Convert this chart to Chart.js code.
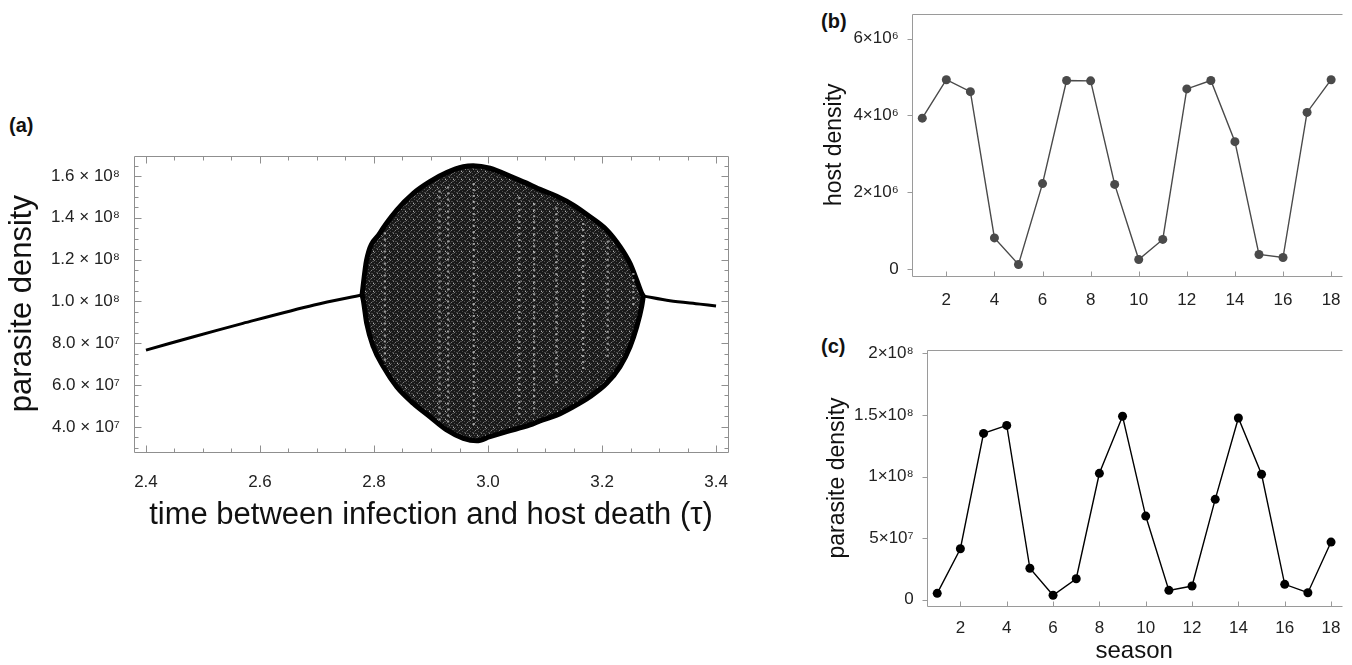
<!DOCTYPE html>
<html>
<head>
<meta charset="utf-8">
<script src="https://cdn.jsdelivr.net/npm/chart.js@4/dist/chart.umd.min.js"></script>
<style>
	body{margin:0;background:#fff;width:1352px;height:665px;position:relative;overflow:hidden;font-family:"Liberation Sans",Arial,sans-serif}
	canvas{position:absolute}
	.tag{position:absolute;font-weight:bold;font-size:20px;line-height:20px;color:#111}
</style>
</head>
<body>
<div class="tag" style="left:9px;top:115px">(a)</div>
<div class="tag" style="left:821px;top:11px">(b)</div>
<div class="tag" style="left:821px;top:336px">(c)</div>
<canvas id="cc" width="572" height="365" style="left:780px;top:300px"></canvas>
<canvas id="cb" width="572" height="312" style="left:780px;top:0"></canvas>
<canvas id="ca" width="760" height="560" style="left:0;top:0"></canvas>
<script>
// (a) parasite density against tau
const branchLeftTau=[2.4,2.482,2.57,2.695,2.779];
const branchLeftVal=[7.67e7,8.3e7,8.95e7,9.83e7,1.031e8];
const branchRightTau=[3.2725,3.319,3.372,3.4];
const branchRightVal=[1.026e8,1.003e8,9.87e7,9.78e7];

const upperTau=[2.779,2.787,2.8105,2.84,2.869,2.898,2.9275,2.9567,2.974,3.0035,3.0444,3.0737,3.0912,3.1205,3.1496,3.1789,3.2082,3.2316,3.2491,3.2609,3.2696,3.2725];
const upperVal=[1.031e8,1.198e8,1.327e8,1.437e8,1.517e8,1.573e8,1.616e8,1.644e8,1.649e8,1.637e8,1.592e8,1.558e8,1.536e8,1.503e8,1.461e8,1.405e8,1.342e8,1.262e8,1.182e8,1.102e8,1.039e8,1.026e8];
const lowerTau=[2.779,2.7812,2.7872,2.7988,2.8163,2.8398,2.869,2.8982,2.9275,2.9567,2.9802,3.0035,3.0328,3.0737,3.0912,3.1205,3.1496,3.1789,3.2082,3.2316,3.2491,3.2609,3.2696,3.2725];
const lowerVal=[1.031e8,1.007e8,8.95e7,7.83e7,6.88e7,5.92e7,5.12e7,4.48e7,3.85e7,3.45e7,3.33e7,3.53e7,3.77e7,4.09e7,4.28e7,4.56e7,4.96e7,5.44e7,6.08e7,6.88e7,7.83e7,8.79e7,9.75e7,1.026e8];

// pale vertical bands inside the chaotic region
const streakTau=[2.819,2.915,2.93,2.975,3.055,3.081,3.12,3.167,3.21,3.255];
const streakTop=[1.33e8,1.53e8,1.55e8,1.567e8,1.5e8,1.47e8,1.45e8,1.375e8,1.29e8,1.136e8];
const streakBottom=[6.96e7,4.2e7,4.0e7,3.94e7,4.4e7,4.6e7,5.9e7,6.57e7,7.3e7,9.73e7];

const tauTicks=[2.4,2.6,2.8,3.0,3.2,3.4];
const tauTickLabels=['2.4','2.6','2.8','3.0','3.2','3.4'];
const densTicks=[4e7,6e7,8e7,1e8,1.2e8,1.4e8,1.6e8];
const densTickLabels=['4.0 × 10⁷','6.0 × 10⁷','8.0 × 10⁷','1.0 × 10⁸','1.2 × 10⁸','1.4 × 10⁸','1.6 × 10⁸'];

// (b), (c) time series
const seasons=[1,2,3,4,5,6,7,8,9,10,11,12,13,14,15,16,17,18];
const hostDensity=[3.93e6,4.93e6,4.62e6,0.82e6,0.13e6,2.23e6,4.91e6,4.9e6,2.21e6,0.26e6,0.78e6,4.69e6,4.91e6,3.32e6,0.39e6,0.31e6,4.08e6,4.93e6];
const parasiteDensity=[0.52e7,4.14e7,1.35e8,1.415e8,2.55e7,0.36e7,1.7e7,1.026e8,1.489e8,6.79e7,0.76e7,1.11e7,8.15e7,1.475e8,1.018e8,1.25e7,0.57e7,4.68e7];

const seasonTicks=[2,4,6,8,10,12,14,16,18];
const hostTicks=[0,2e6,4e6,6e6];
const hostTickLabels=['0','2×10⁶','4×10⁶','6×10⁶'];
const parTicks=[0,5e7,1e8,1.5e8,2e8];
const parTickLabels=['0','5×10⁷','1×10⁸','1.5×10⁸','2×10⁸'];

Chart.defaults.font.family='"Liberation Sans", Arial, sans-serif';
Chart.defaults.color='#1e1e1e';
Chart.defaults.animation=false;
Chart.defaults.plugins.legend.display=false;
Chart.defaults.plugins.tooltip.enabled=false;

const pts=(xs,ys)=>xs.map((x,i)=>({x:x,y:ys[i]}));
const fixed=(vals)=>(s)=>{ s.ticks=vals.map((v)=>({value:v})); };
const lab=(vals,labels)=>(v)=>labels[vals.indexOf(v)];

// frame lines and tick marks, placed with the chart's scales
const frameTicks={
	id:'frameTicks',
	afterDraw(chart,args,o){
		const {ctx,chartArea:a,scales:{x,y}}=chart;
		ctx.save();
		ctx.strokeStyle=o.color;
		ctx.lineWidth=1;
		ctx.beginPath();
		const L=Math.round(a.left)+0.5,R=Math.round(a.right)+0.5,T=Math.round(a.top)+0.5,B=Math.round(a.bottom)+0.5;
		if(o.left){ctx.moveTo(L,T);ctx.lineTo(L,B);}
		if(o.right){ctx.moveTo(R,T);ctx.lineTo(R,B);}
		if(o.top){ctx.moveTo(L,T);ctx.lineTo(R,T);}
		if(o.bottom){ctx.moveTo(L,B);ctx.lineTo(R,B);}
		const xt=(v,len)=>{
			const p=Math.round(x.getPixelForValue(v))+0.5;
			ctx.moveTo(p,B);ctx.lineTo(p,B-len);
			if(o.top&&o.right){ctx.moveTo(p,T);ctx.lineTo(p,T+len);}
		};
		const yt=(v,len)=>{
			const p=Math.round(y.getPixelForValue(v))+0.5;
			if(o.yOut){ctx.moveTo(L,p);ctx.lineTo(L-len,p);}
			else{ctx.moveTo(L,p);ctx.lineTo(L+len,p);}
			if(o.right){ctx.moveTo(R,p);ctx.lineTo(R-len,p);}
		};
		(o.xMajor||[]).forEach((v)=>xt(v,o.major));
		(o.xMinor||[]).forEach((v)=>xt(v,o.minor));
		(o.yMajor||[]).forEach((v)=>yt(v,o.major));
		(o.yMinor||[]).forEach((v)=>yt(v,o.minor));
		ctx.stroke();
		ctx.restore();
	}
};

// mottled fill for the dense cloud of points
function speckle(){
	const t=document.createElement('canvas');
	t.width=t.height=8;
	const g=t.getContext('2d');
	g.fillStyle='#191919';g.fillRect(0,0,8,8);
	g.fillStyle='#4a4a4a';
	[[0,0],[1,0],[4,1],[5,2],[2,3],[7,3],[0,5],[4,5],[5,5],[2,7],[6,7],[3,1]].forEach(([i,j])=>g.fillRect(i,j,1,1));
	g.fillStyle='#7d7d7d';
	[[1,1],[6,4],[3,6]].forEach(([i,j])=>g.fillRect(i,j,1,1));
	g.fillStyle='#b4b4b4';
	[[5,3]].forEach(([i,j])=>g.fillRect(i,j,1,1));
	return g.createPattern(t,'repeat');
}

let tauMinor=[],densMinor=[];
for(let k=0;k<=20;k++){ let v=+(2.4+k*0.05).toFixed(2); if(k%4) tauMinor.push(v); }
for(let k=6;k<=33;k++){ let v=k*5e6; if(k%4) densMinor.push(v); }

let streakSets=streakTau.map((t,i)=>({
	data:[{x:t,y:streakTop[i]},{x:t,y:streakBottom[i]}],
	borderColor:'rgba(235,235,235,0.6)',
	borderWidth:2.2,
	borderDash:[2,4],
	pointRadius:0
}));

new Chart(document.getElementById('ca'),{
	type:'line',
	data:{datasets:[
		{data:pts(branchLeftTau,branchLeftVal),borderColor:'#000',borderWidth:3,pointRadius:0,tension:0.3},
		{data:pts(branchRightTau,branchRightVal),borderColor:'#000',borderWidth:3,pointRadius:0,tension:0.3},
		...streakSets,
		{data:pts(upperTau,upperVal),borderColor:'#000',borderWidth:5,pointRadius:0,cubicInterpolationMode:'monotone',fill:'+1',backgroundColor:speckle()},
		{data:pts(lowerTau,lowerVal),borderColor:'#000',borderWidth:5,pointRadius:0,cubicInterpolationMode:'monotone'}
	]},
	options:{
		responsive:false,
		layout:{padding:{left:0,top:155.5,right:32,bottom:0}},
		plugins:{
			filler:{drawTime:'beforeDatasetsDraw'},
			frameTicks:{color:'#8f8f8f',left:true,right:true,top:true,bottom:true,major:7,minor:4,
				xMajor:tauTicks,xMinor:tauMinor,yMajor:densTicks,yMinor:densMinor}
		},
		scales:{
			x:{type:'linear',min:2.379,max:3.421,
				grid:{display:false},border:{display:false},
				afterBuildTicks:fixed(tauTicks),
				afterFit:(s)=>{s.height=108.3;},
				ticks:{font:{size:17,lineHeight:1},color:'#222',padding:14,maxRotation:0,callback:lab(tauTicks,tauTickLabels)},
				title:{display:true,text:'time between infection and host death (τ)',font:{size:31,lineHeight:1},color:'#111',padding:{top:0,bottom:29}}},
			y:{min:2.81e7,max:1.698e8,
				grid:{display:false},border:{display:false},
				afterBuildTicks:fixed(densTicks),
				afterFit:(s)=>{s.width=134;},
				ticks:{font:{size:17,lineHeight:1},color:'#222',padding:6,callback:lab(densTicks,densTickLabels)},
				title:{display:true,text:'parasite density',font:{size:31,lineHeight:1},color:'#111',padding:{top:6.5,bottom:0}}}
		}
	},
	plugins:[frameTicks]
});

function series(id,values,colour,o){
	return new Chart(document.getElementById(id),{
		type:'line',
		data:{datasets:[{data:pts(seasons,values),borderColor:colour,borderWidth:1.4,
			pointRadius:4.5,pointBackgroundColor:colour,pointBorderWidth:0,tension:0}]},
		options:{
			responsive:false,
			layout:{padding:{left:0,top:o.top,right:10.3,bottom:0}},
			plugins:{
				frameTicks:{color:'#9a9a9a',left:true,top:true,bottom:true,right:false,yOut:true,major:5,
					xMajor:seasonTicks,yMajor:o.yTicks}
			},
			scales:{
				x:{type:'linear',min:o.xMin,max:o.xMax,
					grid:{display:false},border:{display:false},
					afterBuildTicks:fixed(seasonTicks),
					afterFit:(s)=>{s.height=o.xh;},
					ticks:{font:{size:17,lineHeight:1},color:'#222',padding:o.xpad,maxRotation:0},
					title:{display:!!o.xTitle,text:o.xTitle||'',font:{size:24,lineHeight:1},color:'#111',padding:{top:0,bottom:1.3}}},
				y:{min:o.yMin,max:o.yMax,
					grid:{display:false},border:{display:false},
					afterBuildTicks:fixed(o.yTicks),
					afterFit:(s)=>{s.width=o.yw;},
					ticks:{font:{size:17,lineHeight:1},color:'#222',padding:5,callback:lab(o.yTicks,o.yLabels)},
					title:{display:true,text:o.yTitle,font:{size:23,lineHeight:1},color:'#111',padding:{top:o.tpad,bottom:0}}}
			}
		},
		plugins:[frameTicks]
	});
}

series('cb',hostDensity,'#4a4a4a',{top:10.7,xMin:0.56,xMax:18.44,xh:36,xpad:8,yMin:-1.7e5,yMax:6.65e6,
	yTicks:hostTicks,yLabels:hostTickLabels,yw:131.7,yTitle:'host density',tpad:43.5});
series('cc',parasiteDensity,'#000',{top:50,xMin:0.546,xMax:18.46,xh:59,xpad:6.3,yMin:-5.1e6,yMax:2.027e8,
	yTicks:parTicks,yLabels:parTickLabels,yw:146.7,yTitle:'parasite density',tpad:46,xTitle:'season'});
</script>
</body>
</html>
